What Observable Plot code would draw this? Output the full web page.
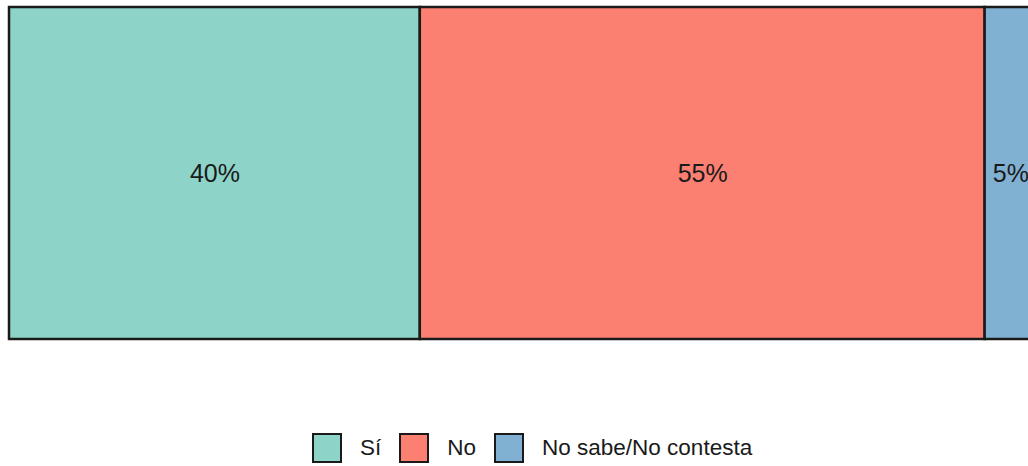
<!DOCTYPE html>
<html>
<head>
<meta charset="utf-8">
<script src="https://cdn.jsdelivr.net/npm/d3@7"></script>
<script src="https://cdn.jsdelivr.net/npm/@observablehq/plot@0.6"></script>
<style>
  html, body { margin: 0; padding: 0; background: #fff; width: 1028px; height: 466px; overflow: hidden; position: relative; font-family: "Liberation Sans", Arial, sans-serif; }
  #chart svg { display: block; }
  .legend { position: absolute; top: 433px; left: 312px; display: flex; align-items: center; font-size: 22.5px; color: #1a1a1a; }
  .key { width: 26px; height: 26px; border: 2.5px solid #1a1a1a; box-sizing: content-box; }
  .lab { margin-left: 18px; margin-right: 18px; }
</style>
</head>
<body>
<div id="chart"></div>
<div class="legend" id="legend"></div>
<script>
const categories = ["Sí", "No", "No sabe/No contesta"];
const values = [40, 55, 5];
const labels = ["40%", "55%", "5%"];
const colors = ["#8DD3C7", "#FB8072", "#80B1D3"];

let acc = 0;
const data = categories.map((c, i) => {
  const x1 = acc; acc += values[i];
  return { cat: c, value: values[i], x1, x2: acc, mid: (x1 + acc) / 2, label: labels[i], row: "total" };
});

const plot = Plot.plot({
  width: 1028,
  height: 346,
  marginTop: 7,
  marginBottom: 7,
  marginLeft: 9,
  marginRight: 0,
  x: { axis: null, domain: [0, 100], range: [9, 1036] },
  y: { axis: null, padding: 0 },
  color: { domain: categories, range: colors },
  marks: [
    Plot.barX(data, { x1: "x1", x2: "x2", y: "row", fill: "cat", stroke: "#1a1a1a", strokeWidth: 2.5 }),
    Plot.text(data, { x: "mid", y: "row", text: "label", fontSize: 25, fill: "#1a1a1a", fontFamily: "Liberation Sans, Arial, sans-serif" })
  ]
});
document.getElementById("chart").appendChild(plot);

const leg = document.getElementById("legend");
categories.forEach((c, i) => {
  const k = document.createElement("div");
  k.className = "key";
  k.style.background = colors[i];
  const t = document.createElement("span");
  t.className = "lab";
  t.textContent = c;
  leg.appendChild(k);
  leg.appendChild(t);
});
</script>
</body>
</html>
